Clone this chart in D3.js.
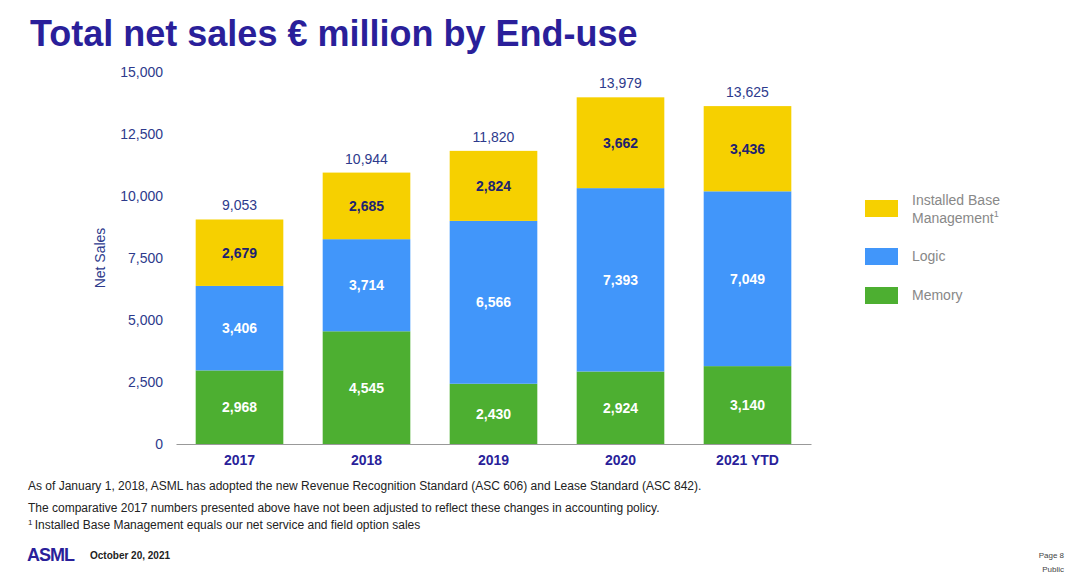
<!DOCTYPE html>
<html><head><meta charset="utf-8">
<script src="https://cdn.jsdelivr.net/npm/d3@7"></script>
<style>body{margin:0;background:#fff;font-family:"Liberation Sans",Arial,sans-serif}</style>
</head><body>
<svg id="c" width="1080" height="578"></svg>
<script>
const years = ["2017","2018","2019","2020","2021 YTD"];
const memory = [2968,4545,2430,2924,3140];
const logic = [3406,3714,6566,7393,7049];
const ibm = [2679,2685,2824,3662,3436];
const totals = [9053,10944,11820,13979,13625];
const yTicks = [0,2500,5000,7500,10000,12500,15000];

const svg = d3.select('#c');
const navy = '#2a1f9a';
const x = d3.scaleBand().domain(years).range([176,811]).paddingInner(0.31).paddingOuter(0.155);
const y = d3.scaleLinear().domain([0,15000]).range([444,72]);

svg.append('text').attr('x',30).attr('y',46).attr('fill',navy).attr('font-size',36).attr('font-weight','bold')
  .text('Total net sales € million by End-use');

const series = [
  {name:'Memory', vals:memory, color:'#4daf31', label:'#fff'},
  {name:'Logic', vals:logic, color:'#4196fa', label:'#fff'},
  {name:'IBM', vals:ibm, color:'#f6d000', label:'#1d2270'}
];
years.forEach((yr,i)=>{
  let base=0;
  series.forEach(s=>{
    const v=s.vals[i];
    svg.append('rect').attr('x',x(yr)).attr('width',x.bandwidth())
      .attr('y',y(base+v)).attr('height',y(base)-y(base+v)).attr('fill',s.color);
    svg.append('text').attr('x',x(yr)+x.bandwidth()/2).attr('y',y(base+v/2)+5)
      .attr('text-anchor','middle').attr('font-size',14).attr('font-weight','bold')
      .attr('fill',s.label).text(d3.format(',')(v));
    base+=v;
  });
  svg.append('text').attr('x',x(yr)+x.bandwidth()/2).attr('y',y(totals[i])-9)
    .attr('text-anchor','middle').attr('font-size',14).attr('fill','#2d3a8c').text(d3.format(',')(totals[i]));
});

const ya = svg.append('g').attr('transform','translate(166,0)')
  .call(d3.axisLeft(y).tickValues(yTicks).tickSize(0).tickFormat(d3.format(',')));
ya.select('.domain').remove();
ya.selectAll('text').attr('font-size',14).attr('fill','#2d3a8c').attr('font-family','Liberation Sans, Arial');

const xa = svg.append('g').attr('transform','translate(0,444)').call(d3.axisBottom(x).tickSize(0));
xa.select('.domain').attr('stroke','#999');
xa.selectAll('text').attr('font-size',14).attr('font-weight','bold').attr('fill',navy).attr('dy','1.3em')
  .attr('font-family','Liberation Sans, Arial');

svg.append('text').attr('transform','translate(105,258) rotate(-90)').attr('text-anchor','middle')
  .attr('font-size',14).attr('fill','#2d3a8c').text('Net Sales');

const leg=[{c:'#f6d000',y:208,l:['Installed Base','Management']},{c:'#4196fa',y:256,l:['Logic']},{c:'#4daf31',y:295,l:['Memory']}];
leg.forEach(d=>{
  svg.append('rect').attr('x',865).attr('y',d.y-8).attr('width',33).attr('height',17).attr('fill',d.c);
  const t=svg.append('text').attr('x',912).attr('font-size',14).attr('fill','#888');
  if(d.l.length===2){
    t.append('tspan').attr('x',912).attr('y',d.y-3).text(d.l[0]);
    t.append('tspan').attr('x',912).attr('y',d.y+15).text(d.l[1]);
    t.append('tspan').attr('font-size',9).attr('dy',-6).text('1');
  } else t.attr('y',d.y+5).text(d.l[0]);
});

const notes=[['As of January 1, 2018, ASML has adopted the new Revenue Recognition Standard (ASC 606) and Lease Standard (ASC 842).',490],
 ['The comparative 2017 numbers presented above have not been adjusted to reflect these changes in accounting policy.',512],
 ['Installed Base Management equals our net service and field option sales',529]];
notes.forEach((n,i)=>{
  const t=svg.append('text').attr('x',28).attr('y',n[1]).attr('font-size',12).attr('fill','#222');
  if(i===2){t.append('tspan').attr('font-size',8).attr('dy',-4).text('1 ');t.append('tspan').attr('dy',4).text(n[0]);}
  else t.text(n[0]);
});
svg.append('text').attr('x',27).attr('y',561).attr('font-size',18).attr('font-weight','bold')
  .attr('fill',navy).attr('textLength',48).text('ASML');
svg.append('text').attr('x',90).attr('y',559).attr('font-size',10).attr('font-weight','bold').attr('fill','#222').text('October 20, 2021');
svg.append('text').attr('x',1064).attr('y',558).attr('text-anchor','end').attr('font-size',8).attr('fill','#444').text('Page 8');
svg.append('text').attr('x',1064).attr('y',572).attr('text-anchor','end').attr('font-size',8).attr('fill','#444').text('Public');
</script></body></html>
